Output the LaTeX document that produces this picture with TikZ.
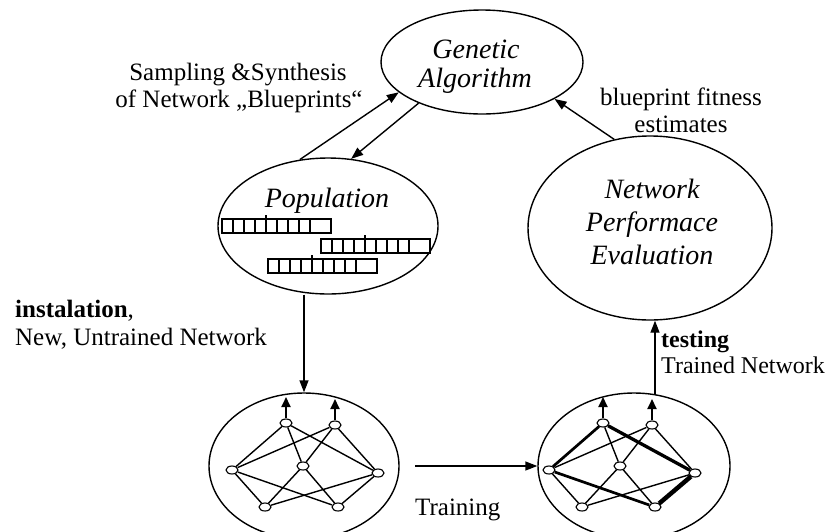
\documentclass[tikz,border=0pt]{standalone}
\usepackage{fontspec}
\setmainfont{Liberation Serif}
\usetikzlibrary{shapes.geometric,arrows.meta}
\begin{document}
\begin{tikzpicture}[x=1pt,y=-1pt,
  oval/.style={draw,ellipse,line width=1.4pt,inner sep=0pt},
  txt/.style={inner sep=0pt,anchor=base,font=\fontsize{25}{28}\selectfont},
  stxt/.style={inner sep=0pt,anchor=base west,font=\fontsize{24}{27}\selectfont},
  itxt/.style={inner sep=0pt,anchor=base,font=\fontsize{28}{30}\selectfont\itshape},
  arr/.style={line width=1.4pt,-{Triangle[length=12pt,width=9pt]}},
  unit/.style={draw,ellipse,fill=white,line width=1.1pt,minimum width=12pt,minimum height=8pt,inner sep=0pt},
  wire/.style={line width=1.4pt},
  outarr/.style={line width=2pt,-{Triangle[length=10pt,width=9pt]}},
  cellline/.style={line width=1.2pt}
]
\useasboundingbox (0,0) rectangle (829,531);

% main ellipses
\node[oval,minimum width=202pt,minimum height=104pt] (ga) at (482,62) {};
\node[oval,minimum width=220pt,minimum height=136pt] (pop) at (328,226) {};
\node[oval,minimum width=244pt,minimum height=184pt] (perf) at (650,228) {};
\node[oval,minimum width=190pt,minimum height=146pt] (lnet) at (304,466) {};
\node[oval,minimum width=192pt,minimum height=146pt] (rnet) at (634,466) {};

% texts
\node[txt] (s1) at (238,80) {Sampling \&Synthesis};
\node[txt] (s2) at (239,107) {of Network „Blueprints“};
\node[itxt] (g1) at (476,58) {Genetic};
\node[itxt] (g2) at (475,87) {Algorithm};
\node[itxt] (p1) at (327,207) {Population};
\node[txt] (b1) at (681,105) {blueprint fitness};
\node[txt] (b2) at (681,132) {estimates};
\node[itxt] (n1) at (652,198) {Network};
\node[itxt] (n2) at (652,231) {Performace};
\node[itxt] (n3) at (652,264) {Evaluation};
\node[txt,anchor=base west] (i1) at (15,317) {\textbf{instalation},};
\node[txt,anchor=base west] (i2) at (15,345) {New, Untrained Network};
\node[stxt] (t1) at (661,347) {\textbf{testing}};
\node[stxt] (t2) at (661,373) {Trained Network};
\node[txt,anchor=base west] (tr) at (415,515) {Training};

% population bars
\foreach \bx/\by in {222/219, 321/239, 268/259}{
  \draw[cellline] (\bx,\by) rectangle ++(109,14);
  \foreach \k in {1,...,8} \draw[cellline] (\bx+11*\k,\by) -- ++(0,14);
  \draw[cellline] (\bx+44,\by) -- ++(0,-4);
}

% networks
\foreach \p/\dx in {l/0, r/317}{
  \node[unit] (\p-tl) at (286+\dx,423) {};
  \node[unit] (\p-tr) at (335+\dx,425) {};
  \node[unit] (\p-ml) at (232+\dx,470) {};
  \node[unit] (\p-c)  at (303+\dx,466) {};
  \node[unit] (\p-r)  at (378+\dx,473) {};
  \node[unit] (\p-bl) at (265+\dx,507) {};
  \node[unit] (\p-br) at (338+\dx,507) {};
  \coordinate (\p-otl) at (286+\dx,397);
  \coordinate (\p-otr) at (335+\dx,399);
  \foreach \t in {tl,tr}{\foreach \h in {ml,c,r}{\draw[wire] (\p-\t) -- (\p-\h);}}
  \foreach \h in {ml,c,r}{\foreach \b in {bl,br}{\draw[wire] (\p-\h) -- (\p-\b);}}
  \draw[outarr] (\p-tl) -- (\p-otl);
  \draw[outarr] (\p-tr) -- (\p-otr);
}
\draw[line width=2.7pt] (r-tl) -- (r-ml);
\draw[line width=3.3pt] (r-tl) -- (r-r);
\draw[line width=2.7pt] (r-ml) -- (r-br);
\draw[line width=4.5pt] (r-r) -- (r-br);

% connectors
\draw[arr] (pop.113) -- (ga.200);
\draw[arr] (ga.213) -- (pop.71);
\draw[arr] (perf.112) -- (ga.333);
\draw[arr] (lnet.north |- pop.south) -- (lnet.north);
\coordinate (trs) at (415,466);
\draw[arr] (trs) -- (rnet.west);
\coordinate (up0) at (655,394);
\draw[arr] (up0) -- (perf.south -| up0);
\end{tikzpicture}
\end{document}
